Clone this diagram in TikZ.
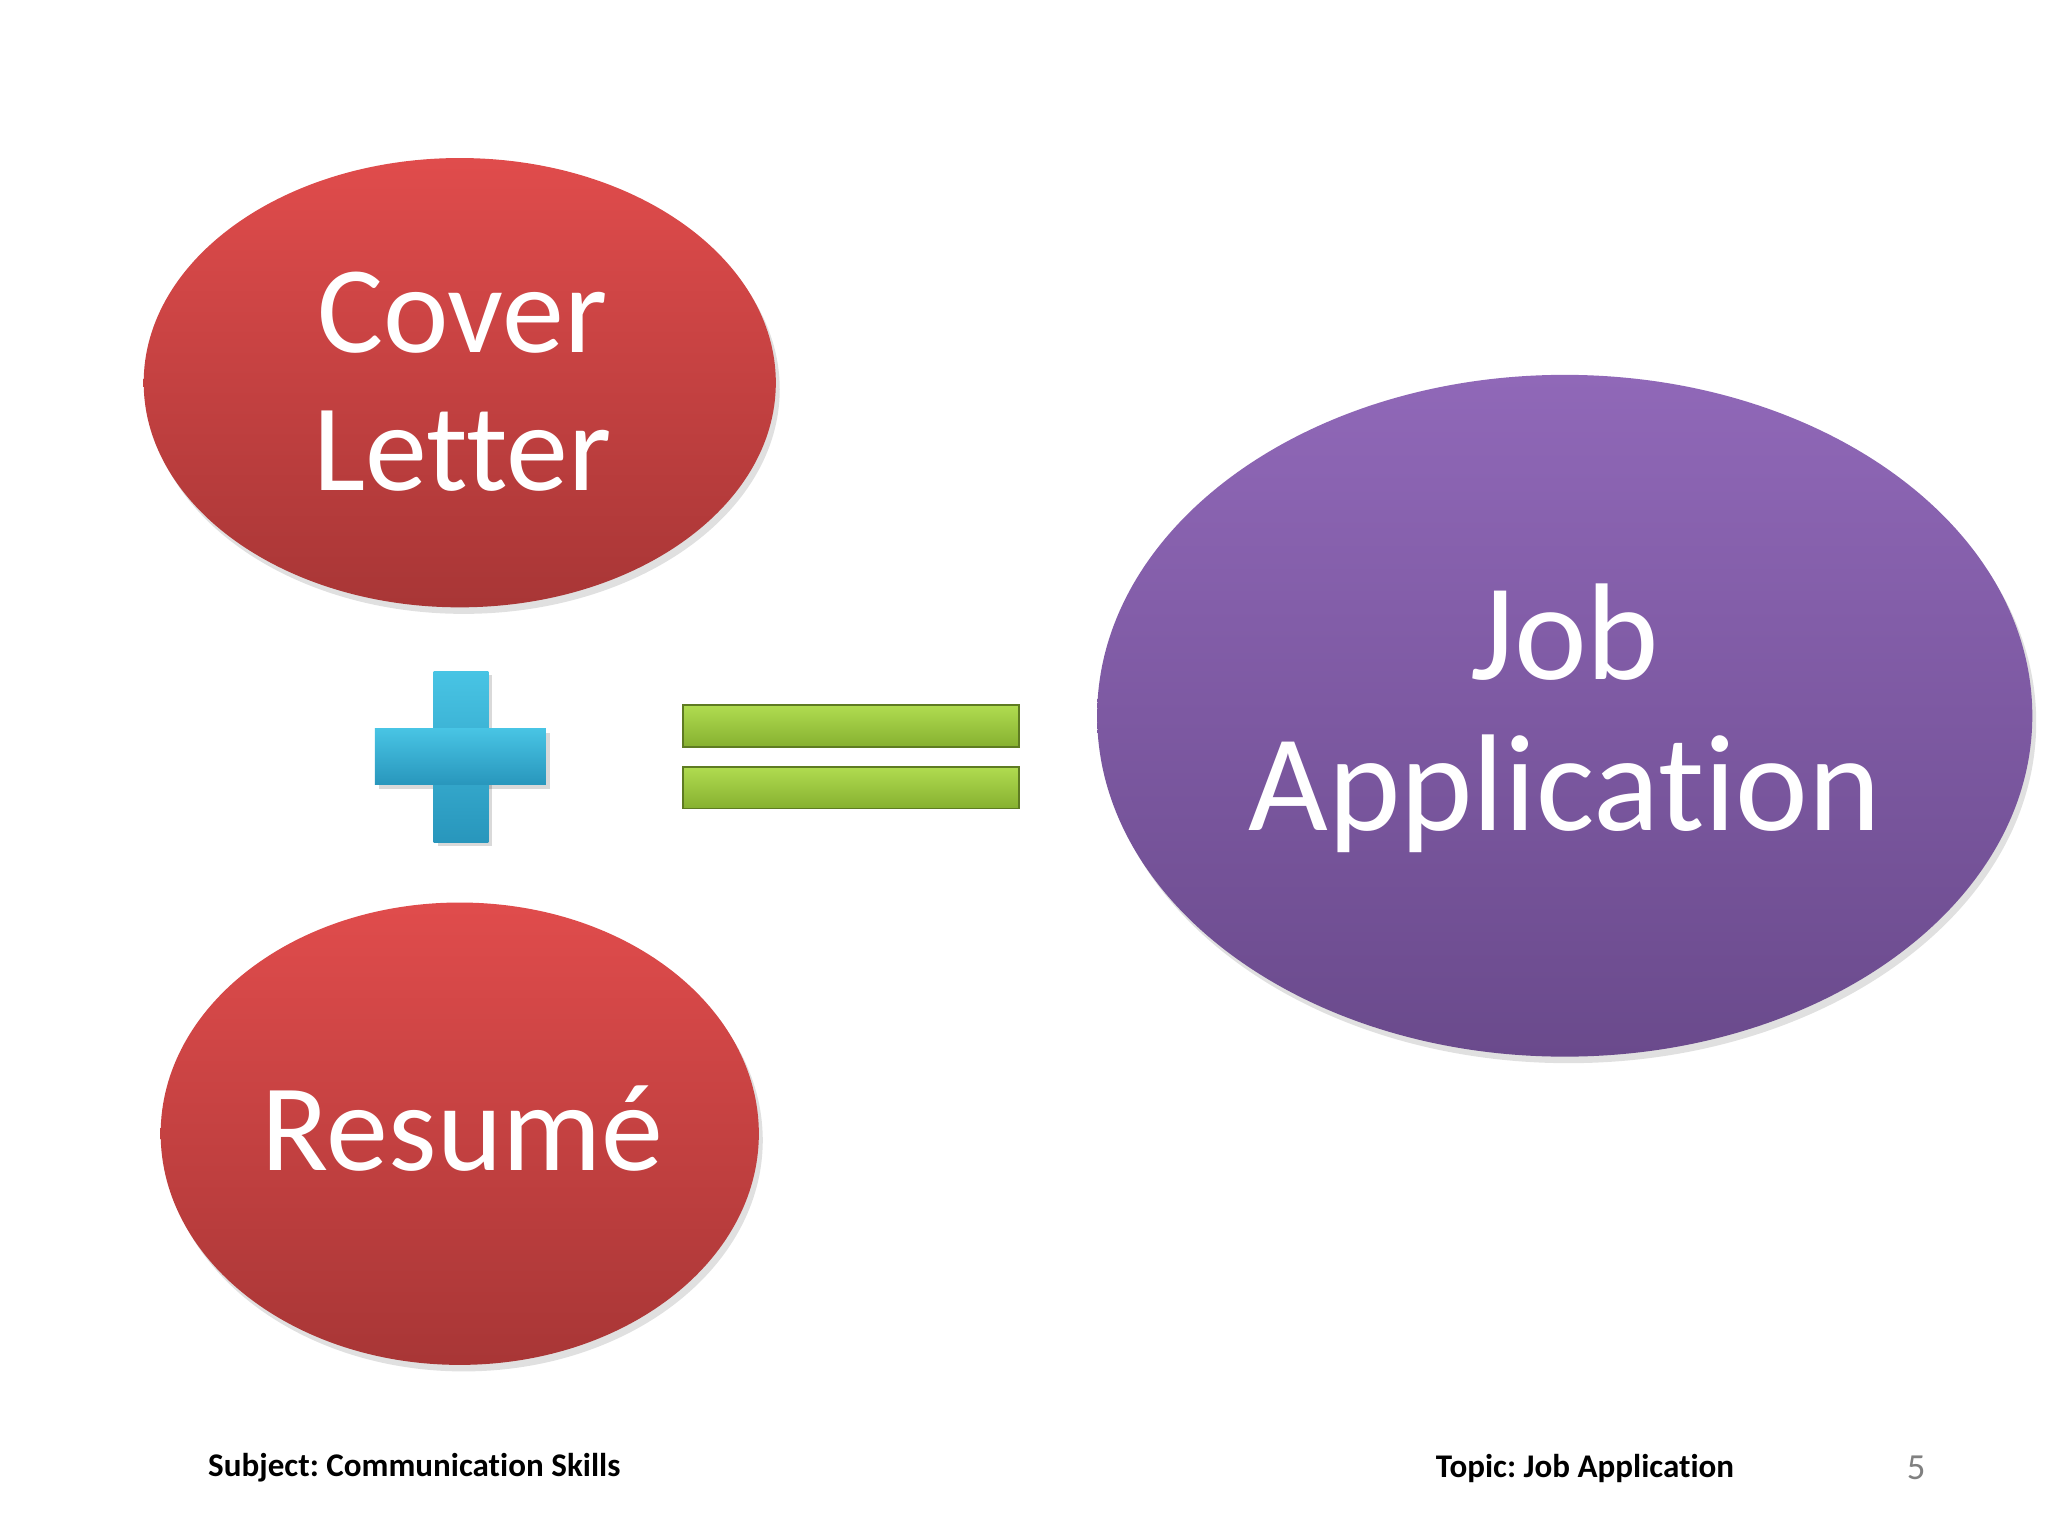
\documentclass[tikz,border=0pt]{standalone}
\usepackage{fontspec}
\setmainfont[Ligatures=NoCommon]{Carlito}
\usetikzlibrary{shapes.geometric}
\definecolor{rtop}{HTML}{E04C4C}
\definecolor{rbot}{HTML}{A83636}
\definecolor{ptop}{HTML}{9068B8}
\definecolor{pbot}{HTML}{6A4A8C}
\definecolor{ctop}{HTML}{48C4E4}
\definecolor{cbot}{HTML}{2896BC}
\definecolor{gtop}{HTML}{B0DC50}
\definecolor{gbot}{HTML}{86B030}
\begin{document}
\frenchspacing
\begin{tikzpicture}[x=0.01cm,y=-0.01cm,
  lbl/.style={text=white,align=center},
  shadowfill/.style={fill=black,opacity=0.12},
  foot/.style={font=\fontsize{7.2}{9}\selectfont\bfseries,anchor=west}]
\useasboundingbox (0,0) rectangle (1568,1176);
\fill[white] (0,0) rectangle (1568,1176);
% shadows
\fill[shadowfill] (355,298) ellipse [x radius=242,y radius=172];
\fill[shadowfill] (355,873) ellipse [x radius=229,y radius=177];
\fill[shadowfill] (1201,553) ellipse [x radius=358,y radius=261];
% ellipses
\shade[top color=rtop,bottom color=rbot] (352,293) ellipse [x radius=242,y radius=172];
\shade[top color=rtop,bottom color=rbot] (352,868) ellipse [x radius=229,y radius=177];
\shade[top color=ptop,bottom color=pbot] (1198,548) ellipse [x radius=358,y radius=261];
\node[lbl,font=\fontsize{27}{30}\selectfont] (cover) at (354,292) {Cover\\Letter};
\node[lbl,font=\fontsize{27}{30}\selectfont] (resume) at (354,864) {Resumé};
\node[lbl,font=\fontsize{30}{33}\selectfont] (job) at (1198,550) {Job\\Application};
% plus
\fill[black,opacity=0.15] (335,517) rectangle (377,648);
\fill[black,opacity=0.15] (290,561) rectangle (421,604);
\shade[top color=ctop,bottom color=cbot] (332,514) rectangle (374,645);
\shade[top color=ctop,bottom color=cbot] (287,558) rectangle (418,601);
% equals
\shade[top color=gtop,bottom color=gbot,draw=gbot!70!black,line width=0.4pt] (523,540) rectangle (780,572);
\shade[top color=gtop,bottom color=gbot,draw=gbot!70!black,line width=0.4pt] (523,587) rectangle (780,619);
\node[foot] (subj) at (147,1124) {Subject: Communication Skills};
\node[foot] (topic) at (1087,1124) {Topic: Job Application};
\node[font=\fontsize{8}{9}\selectfont,text=gray] (num) at (1467,1124) {5};
\end{tikzpicture}
\end{document}
